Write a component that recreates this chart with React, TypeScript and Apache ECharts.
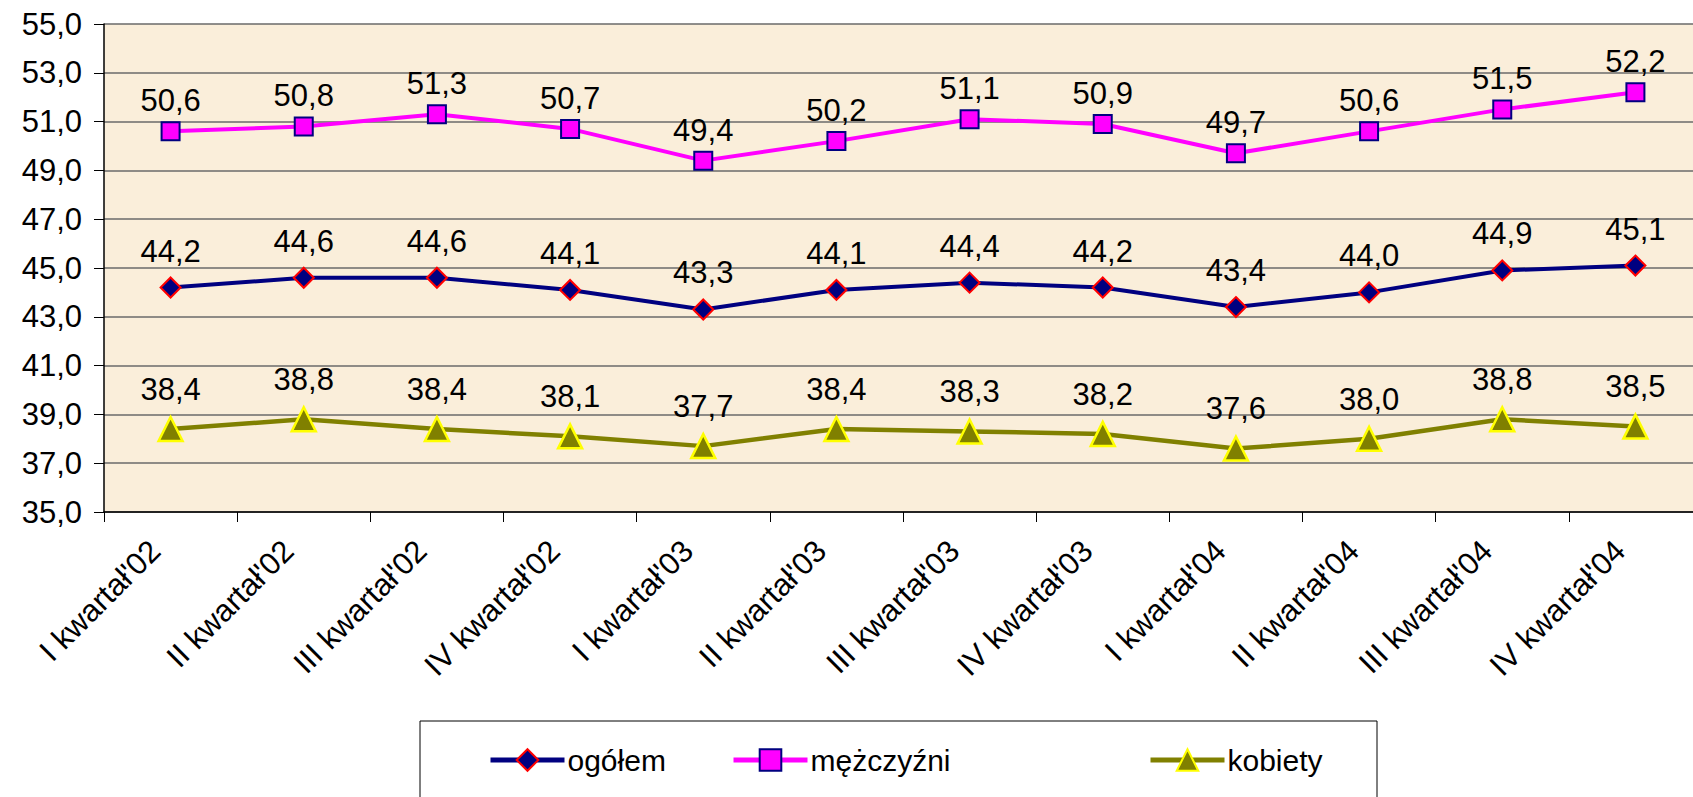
import React, { useEffect, useRef } from "react";
import * as echarts from "echarts";

const categories = [
  "I kwartał'02", "II kwartał'02", "III kwartał'02", "IV kwartał'02",
  "I kwartał'03", "II kwartał'03", "III kwartał'03", "IV kwartał'03",
  "I kwartał'04", "II kwartał'04", "III kwartał'04", "IV kwartał'04",
];
const ogolem = [44.2, 44.6, 44.6, 44.1, 43.3, 44.1, 44.4, 44.2, 43.4, 44.0, 44.9, 45.1];
const mezczyzni = [50.6, 50.8, 51.3, 50.7, 49.4, 50.2, 51.1, 50.9, 49.7, 50.6, 51.5, 52.2];
const kobiety = [38.4, 38.8, 38.4, 38.1, 37.7, 38.4, 38.3, 38.2, 37.6, 38.0, 38.8, 38.5];

const FONT = "'Liberation Sans', Arial, sans-serif";
const fmt = (v: number) => v.toFixed(1).replace(".", ",");

export default function App() {
  const ref = useRef<HTMLDivElement>(null);

  useEffect(() => {
    document.body.style.margin = "0";
    const chart = echarts.init(ref.current!, null, { renderer: "svg" });
    const label = (distance: number) => ({
      show: true,
      position: "top",
      distance,
      fontFamily: FONT,
      fontSize: 31,
      color: "#000",
      formatter: (p: any) => fmt(p.value),
    });
    chart.setOption({
      animation: false,
      backgroundColor: "#fff",
      textStyle: { fontFamily: FONT },
      grid: {
        left: 104,
        top: 24,
        right: 18,
        bottom: 285,
        show: true,
        backgroundColor: "#FAEEDA",
        borderWidth: 0,
      },
      legend: [
        { name: "ogółem", left: 483 },
        { name: "mężczyźni", left: 726 },
        { name: "kobiety", left: 1143 },
      ].map((l) => ({
        data: [l.name],
        left: l.left,
        top: 740,
        itemWidth: 74,
        itemHeight: 27,
        itemGap: 0,
        lineStyle: { width: 5 },
        textStyle: { fontFamily: FONT, fontSize: 30, color: "#000", padding: [0, 0, 0, -2] },
      })),
      graphic: [
        {
          type: "rect",
          shape: { x: 420, y: 721, width: 957, height: 100 },
          style: { fill: "none", stroke: "#000", lineWidth: 1 },
        },
      ],
      xAxis: {
        type: "category",
        data: categories,
        boundaryGap: true,
        axisLine: { lineStyle: { color: "#000", width: 1.5 } },
        axisTick: { show: true, length: 10, lineStyle: { color: "#000" } },
        axisLabel: {
          rotate: 45,
          margin: 18,
          interval: 0,
          padding: [0, 22, 0, 0],
          fontFamily: FONT,
          fontSize: 31,
          color: "#000",
        },
      },
      yAxis: {
        type: "value",
        min: 35,
        max: 55,
        interval: 2,
        axisLine: { show: true, lineStyle: { color: "#000", width: 1.5 } },
        axisTick: { show: true, length: 10, lineStyle: { color: "#000" } },
        splitLine: { lineStyle: { color: "#6a6a6a", width: 1.5 } },
        axisLabel: {
          margin: 22,
          fontFamily: FONT,
          fontSize: 31,
          color: "#000",
          formatter: (v: number) => fmt(v),
        },
      },
      series: [
        {
          name: "ogółem",
          type: "line",
          data: ogolem,
          symbol: "diamond",
          symbolSize: 20,
          lineStyle: { color: "#000080", width: 4 },
          itemStyle: { color: "#000080", borderColor: "#FF0000", borderWidth: 2 },
          label: label(10),
        },
        {
          name: "mężczyźni",
          type: "line",
          data: mezczyzni,
          symbol: "rect",
          symbolSize: 18,
          lineStyle: { color: "#FF00FF", width: 4 },
          itemStyle: { color: "#FF00FF", borderColor: "#000080", borderWidth: 2 },
          label: label(5),
        },
        {
          name: "kobiety",
          type: "line",
          data: kobiety,
          symbol: "triangle",
          symbolSize: 24,
          lineStyle: { color: "#808000", width: 4.5 },
          itemStyle: { color: "#808000", borderColor: "#FFFF00", borderWidth: 2.5 },
          label: label(11),
        },
      ],
    });
    return () => chart.dispose();
  }, []);

  return (
    <div style={{ width: 1693, height: 797, overflow: "hidden" }}>
      <div ref={ref} style={{ width: 1720, height: 797 }} />
    </div>
  );
}
